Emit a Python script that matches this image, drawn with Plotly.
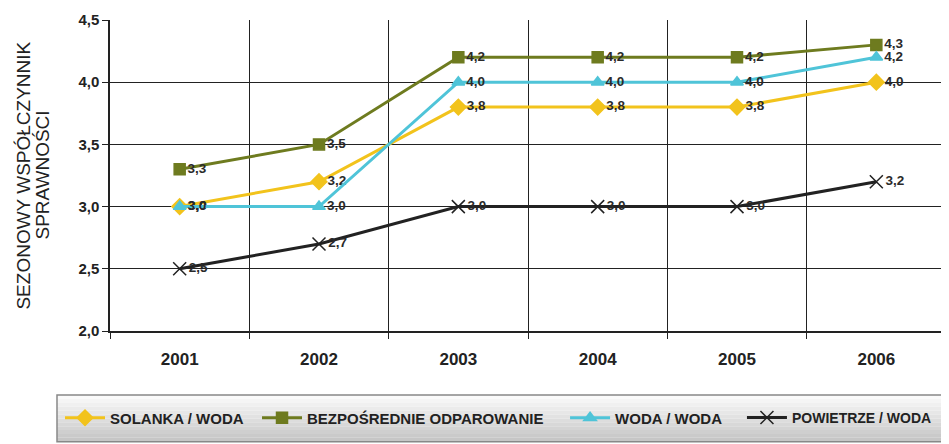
import plotly.graph_objects as go

years = ["2001", "2002", "2003", "2004", "2005", "2006"]
solanka = [3.0, 3.2, 3.8, 3.8, 3.8, 4.0]
bezposrednie = [3.3, 3.5, 4.2, 4.2, 4.2, 4.3]
woda = [3.0, 3.0, 4.0, 4.0, 4.0, 4.2]
powietrze = [2.5, 2.7, 3.0, 3.0, 3.0, 3.2]
title_lines = ["SEZONOWY WSPÓŁCZYNNIK", "SPRAWNOŚCI"]

series = [
    ("SOLANKA / WODA", solanka, "#F2C31C", "diamond", 12),
    ("BEZPOŚREDNIE ODPAROWANIE", bezposrednie, "#6E7B1F", "square", 11),
    ("WODA / WODA", woda, "#4FC4D8", "triangle-up", 11),
    ("POWIETRZE / WODA", powietrze, "#222222", "x-thin-open", 13),
]
legend_ids = ["legend", "legend2", "legend3", "legend4"]
legend_x = [0.0548, 0.2624, 0.587, 0.7734]
legend_size = [15, 15, 15, 14]

xs = list(range(len(years)))
fig = go.Figure()
for (name, vals, color, sym, size), lid in zip(series, legend_ids):
    fig.add_trace(go.Scatter(
        x=xs, y=vals, name=name, mode="lines+markers+text", legend=lid,
        line=dict(color=color, width=3),
        marker=dict(symbol=sym, size=size, color=color,
                    line=dict(color=color, width=1.5)),
        text=[f"{v:.1f}".replace(".", ",") for v in vals],
        textposition="middle right",
        textfont=dict(family="Liberation Sans, Arial", size=13.5, color="#2a2a2a", weight="bold"),
        cliponaxis=False,
    ))

# legend background gradient (white -> gray)
n = 12
y0, y1 = -0.206, -0.356
x0, x1 = -0.0634, 1.02
for i in range(n):
    c = int(250 - (250 - 198) * i / (n - 1))
    fig.add_shape(type="rect", xref="paper", yref="paper", layer="below",
                  x0=x0, x1=x1,
                  y0=y0 + (y1 - y0) * i / n, y1=y0 + (y1 - y0) * (i + 1) / n,
                  fillcolor=f"rgb({c},{c},{c})", line=dict(width=0))
fig.add_shape(type="rect", xref="paper", yref="paper", layer="below",
              x0=x0, x1=x1, y0=y1, y1=y0,
              line=dict(color="#888888", width=1.5))

# y-axis title as two rotated lines
for txt, xp in zip(title_lines, [-0.104, -0.0813]):
    fig.add_annotation(text=txt, xref="paper", yref="paper", x=xp, y=0.5,
                       xanchor="center", yanchor="middle", textangle=-90, showarrow=False,
                       font=dict(family="Liberation Sans, Arial", size=19, color="#222"))

legends = {}
for lid, lx, fs in zip(legend_ids, legend_x, legend_size):
    legends[lid] = dict(orientation="h", xref="container", yref="container",
                        x=lx, xanchor="left", y=0.0766, yanchor="middle",
                        bgcolor="rgba(0,0,0,0)",
                        font=dict(family="Liberation Sans, Arial", size=fs, color="#222", weight="bold"),
                        itemwidth=40)

fig.update_layout(
    width=949, height=444,
    margin=dict(l=102, r=11, t=12, b=121, autoexpand=False),
    plot_bgcolor="white", paper_bgcolor="white",
    separators=", ",
    showlegend=True,
    **legends,
    xaxis=dict(range=[-0.5, 5.5], tickvals=xs, ticktext=years, showgrid=False,
               tickfont=dict(family="Liberation Sans, Arial", size=17, color="#222", weight="bold"),
               ticks="", ticklabelstandoff=12,
               showline=True, linecolor="#222", linewidth=1.5, zeroline=False,
               automargin=False,
               minor=dict(tickvals=[i - 0.5 for i in range(7)], showgrid=True,
                          gridcolor="#222", gridwidth=1.2, ticks="outside", ticklen=6, tickcolor="#222")),
    yaxis=dict(range=[2.0, 4.5], dtick=0.5, tickformat=".1f",
               showgrid=True, gridcolor="#222", gridwidth=1.2,
               ticks="outside", ticklen=6, tickcolor="#222",
               showline=True, linecolor="#222", linewidth=1.5, zeroline=False,
               automargin=False,
               tickfont=dict(family="Liberation Sans, Arial", size=15, color="#222", weight="bold")),
)

fig.write_html("out.html")
